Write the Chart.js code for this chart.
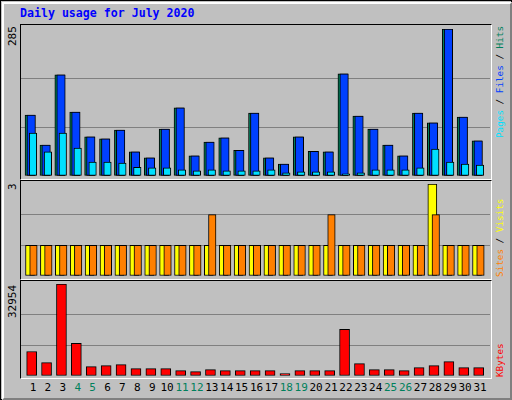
<!DOCTYPE html>
<html><head><meta charset="utf-8">
<script src="https://cdn.jsdelivr.net/npm/chart.js@4/dist/chart.umd.min.js"></script>
<style>
html,body{margin:0;padding:0;background:#c0c0c0;}
#frame{position:absolute;left:0;top:0;width:510px;height:398px;border:1px solid #000;background:#c0c0c0;box-sizing:content-box;}
#bev{position:absolute;left:1px;top:1px;width:506px;height:394px;border-top:2px solid #fff;border-left:2px solid #fff;border-right:2px solid #808080;border-bottom:2px solid #808080;box-sizing:content-box;}
.box{position:absolute;border:1px solid #000;border-right-color:#fff;border-bottom-color:#fff;background:#c0c0c0;box-sizing:border-box;}
.cv{position:absolute;}
.t{position:absolute;font-family:"DejaVu Sans Mono",monospace;white-space:nowrap;}
.rot{position:absolute;font-family:"DejaVu Sans Mono",monospace;font-size:11px;line-height:12px;white-space:nowrap;transform-origin:0 0;transform:rotate(-90deg);}
.rs{font-size:9.3px;}
</style></head><body>
<div id="frame"><div id="bev"></div></div>
<div class="t" style="left:20px;top:6px;font-size:11.6px;font-weight:bold;color:#0000ff;">Daily usage for July 2020</div>
<div class="box" style="left:20px;top:24px;width:472px;height:156px;"></div>
<div class="box" style="left:20px;top:180px;width:472px;height:100px;"></div>
<div class="box" style="left:20px;top:280px;width:472px;height:99px;"></div>
<div class="cv" style="left:21px;top:29px;width:469px;height:147px;"><canvas id="c1" width="469" height="147"></canvas></div>
<div class="cv" style="left:21px;top:184px;width:469px;height:92px;"><canvas id="c2" width="469" height="92"></canvas></div>
<div class="cv" style="left:21px;top:284px;width:469px;height:92px;"><canvas id="c3" width="469" height="92"></canvas></div>
<div class="rot" style="left:7px;top:46px;color:#000;">285</div>
<div class="rot" style="left:7px;top:190px;color:#000;">3</div>
<div class="rot" style="left:7px;top:318px;color:#000;">32954</div>
<div class="rot rs" style="left:494px;top:138px;"><span style="color:#00e0ff">Pages</span><span style="color:#000"> / </span><span style="color:#0040ff">Files</span><span style="color:#000"> / </span><span style="color:#00805c">Hits</span></div>
<div class="rot rs" style="left:494px;top:277px;"><span style="color:#ff8000">Sites</span><span style="color:#000"> / </span><span style="color:#ffff00">Visits</span></div>
<div class="rot rs" style="left:494px;top:377px;"><span style="color:#ff0000">KBytes</span></div>
<div id="xl"></div>
<script>
const days=[1,2,3,4,5,6,7,8,9,10,11,12,13,14,15,16,17,18,19,20,21,22,23,24,25,26,27,28,29,30,31];
const weekend=[4,5,11,12,18,19,25,26];
const hits=[118,60,196,124,76,72,89,47,35,91,132,39,66,74,50,122,35,23,76,48,47,198,116,91,60,39,122,103,285,114,68];
const files=[118,60,196,124,76,72,89,47,35,91,132,39,66,74,50,122,35,23,76,48,47,198,116,91,60,39,122,103,285,114,68];
const pages=[83,47,83,54,27,27,25,17,16,16,12,10,12,10,10,10,12,6,8,8,8,4,6,12,12,12,16,52,27,23,21];
const visits=[1,1,1,1,1,1,1,1,1,1,1,1,1,1,1,1,1,1,1,1,1,1,1,1,1,1,1,3,1,1,1];
const sites=[1,1,1,1,1,1,1,1,1,1,1,1,2,1,1,1,1,1,1,1,2,1,1,1,1,1,1,2,1,1,1];
const kbytes=[8780,4810,32954,11670,3370,3730,4090,2650,2650,2650,1920,1560,2290,1920,1920,1920,1920,840,1920,1920,1920,16720,4450,2290,2290,1920,3010,3730,5170,3010,3010];
const yMax=[285,3,32954];

const XMIN=0.195, XMAX=31.67;
const pts=(arr,off)=>arr.map((v,i)=>({x:days[i]+off,y:v}));
function ds(data,color,thick,order){return {data,backgroundColor:color,borderColor:'#000',borderWidth:1,borderSkipped:false,barThickness:thick,order,grouped:false};}
function mk(id,datasets,max){
  new Chart(document.getElementById(id),{type:'bar',data:{datasets},
    options:{responsive:false,animation:false,clip:false,layout:{padding:0},
      plugins:{legend:{display:false},tooltip:{enabled:false}},
      scales:{
        x:{type:'linear',min:XMIN,max:XMAX,offset:false,display:false},
        y:{min:0,max,display:true,border:{display:false},
          ticks:{display:false},
          afterBuildTicks:s=>{s.ticks=[0,max/3,2*max/3,max].map(v=>({value:v}));},
          grid:{drawTicks:false,color:c=>(c.index===1||c.index===2)?'#808080':'rgba(0,0,0,0)'}}
      }}});
}
mk('c1',[ds(pts(hits,-0.2),'#00805c',10,2),ds(pts(files,-0.12),'#0040ff',8.5,1),ds(pts(pages,0),'#00e0ff',7.5,0)],yMax[0]);
mk('c2',[ds(pts(visits,-0.2),'#ffff00',9,1),ds(pts(sites,0.03),'#ff8000',7.5,0)],yMax[1]);
mk('c3',[ds(pts(kbytes,-0.09),'#ff0000',10,0)],yMax[2]);
const xl=document.getElementById('xl');
days.forEach(d=>{
  const s=document.createElement('div');s.className='t';
  const cx=21+(d-XMIN)/(XMAX-XMIN)*469;
  s.style.cssText=`left:${cx-10}px;width:20px;text-align:center;top:381px;font-size:11px;color:${weekend.includes(d)?'#00805c':'#000'}`;
  s.textContent=d;xl.appendChild(s);
});
</script>
</body></html>
